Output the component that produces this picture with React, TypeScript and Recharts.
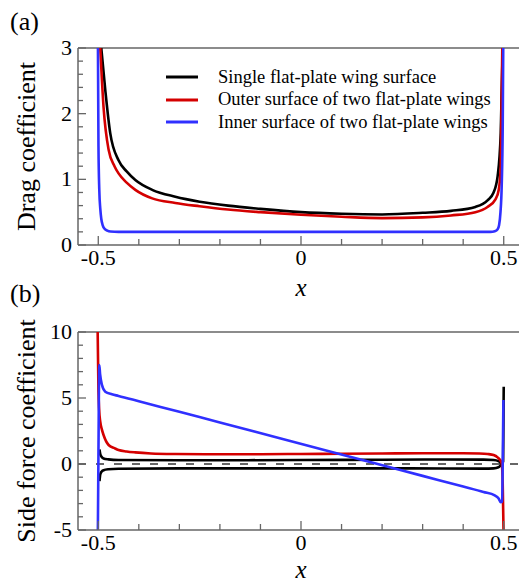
import React from "react";
import { LineChart, Line, XAxis, YAxis, ReferenceLine, Legend } from "recharts";

const FONT = '"Liberation Serif", "Times New Roman", Times, serif';
const FRAME = "#666666";

// shared x axis
const xTicks = [-0.5, -0.4, -0.3, -0.2, -0.1, 0, 0.1, 0.2, 0.3, 0.4, 0.5];
const xLabelAt = [-0.5, 0, 0.5];
const xTickLabels = ["-0.5", "0", "0.5"];

// (a) drag coefficient axis
const dragTicks = [0, 0.2, 0.4, 0.6, 0.8, 1, 1.2, 1.4, 1.6, 1.8, 2, 2.2, 2.4, 2.6, 2.8, 3];
const dragLabelAt = [0, 1, 2, 3];
const dragTickLabels = ["0", "1", "2", "3"];

// (b) side force coefficient axis
const sideTicks = [-5, -4, -3, -2, -1, 0, 1, 2, 3, 4, 5, 6, 7, 8, 9, 10];
const sideLabelAt = [-5, 0, 5, 10];
const sideTickLabels = ["-5", "0", "5", "10"];

const seriesNames = [
  "Single flat-plate wing surface",
  "Outer surface of two flat-plate wings",
  "Inner surface of two flat-plate wings",
];
const seriesColors = ["#000000", "#d40000", "#3030ff"];

// (a) drag coefficient
const singleDragX = [-0.4926, -0.4827, -0.4704, -0.45, -0.43, -0.4086, -0.367, -0.31, -0.25, -0.18, -0.1, 0, 0.1, 0.2, 0.3, 0.37, 0.43, 0.46, 0.475, 0.485, 0.4926, 0.4975];
const singleDragY = [3, 2.36, 1.7, 1.29, 1.12, 0.99, 0.84, 0.735, 0.66, 0.6, 0.55, 0.5, 0.475, 0.465, 0.49, 0.52, 0.58, 0.68, 0.8, 1.05, 1.7, 3];

const outerDragX = [-0.4951, -0.487, -0.4745, -0.46, -0.45, -0.43, -0.4086, -0.367, -0.31, -0.25, -0.18, -0.1, 0, 0.1, 0.2, 0.3, 0.37, 0.43, 0.46, 0.48, 0.488, 0.4926, 0.4965];
const outerDragY = [3, 2.1, 1.45, 1.2, 1.09, 0.95, 0.84, 0.71, 0.64, 0.59, 0.54, 0.5, 0.46, 0.43, 0.41, 0.42, 0.45, 0.5, 0.58, 0.7, 0.85, 1.2, 3];

const innerDragX = [-0.5008, -0.4995, -0.4975, -0.495, -0.4926, -0.489, -0.485, -0.478, -0.47, -0.45, 0, 0.45, 0.467, 0.478, 0.485, 0.4885, 0.492, 0.495, 0.4975, 0.4988];
const innerDragY = [3, 1.5, 0.84, 0.55, 0.4, 0.3, 0.25, 0.22, 0.205, 0.2, 0.2, 0.2, 0.2, 0.21, 0.24, 0.3, 0.5, 0.9, 1.8, 3];

// (b) side force coefficient, single wing has two branches
const singleUpperX = [-0.497, -0.4951, -0.492, -0.487, -0.475, -0.45, -0.3, 0, 0.2, 0.35, 0.45, 0.475, 0.487, 0.4926, 0.4955, 0.4985, 0.5];
const singleUpperY = [1.1, 0.75, 0.55, 0.42, 0.35, 0.3, 0.28, 0.3, 0.32, 0.34, 0.33, 0.3, 0.22, 0.08, 0, 0.2, 5.86];
const singleLowerX = [-0.497, -0.4951, -0.492, -0.487, -0.475, -0.45, -0.3, 0, 0.2, 0.35, 0.45, 0.475, 0.487, 0.4926, 0.4955];
const singleLowerY = [-1.3, -0.8, -0.58, -0.47, -0.4, -0.36, -0.33, -0.33, -0.33, -0.34, -0.35, -0.33, -0.25, -0.1, 0];

const outerSideX = [-0.5015, -0.4995, -0.498, -0.4951, -0.491, -0.487, -0.4745, -0.46, -0.45, -0.43, -0.409, -0.37, -0.31, -0.2, -0.1, 0, 0.1, 0.2, 0.3, 0.4, 0.44, 0.46, 0.475, 0.485, 0.491, 0.4951, 0.4975, 0.4995];
const outerSideY = [10, 5.5, 4.2, 3.2, 2.6, 2.2, 1.44, 1.2, 1.06, 0.95, 0.88, 0.8, 0.76, 0.74, 0.74, 0.76, 0.78, 0.8, 0.82, 0.82, 0.8, 0.76, 0.68, 0.5, 0.3, 0.05, -1.5, -5];

const innerSideX = [-0.501, -0.4995, -0.4975, -0.4955, -0.491, -0.4827, -0.4663, -0.45, -0.4, -0.3, -0.2, -0.05, 0.189, 0.3, 0.4, 0.45, 0.4778, 0.487, 0.4925, 0.496, 0.4975, 0.4992];
const innerSideY = [-5, 1, 7.5, 6.8, 6.0, 5.48, 5.28, 5.16, 4.76, 3.95, 3.15, 1.93, 0, -0.9, -1.71, -2.12, -2.38, -2.6, -2.9, -2.85, 0, 4.85];

const pts = (xs: number[], ys: number[]) => xs.map((x, i) => ({ x, y: ys[i] }));

// ticks point inward, only the major ones get a label
const makeYTick = (labelAt: number[], labels: string[]) => (props: any) => {
  const { x, y, payload } = props;
  const i = labelAt.indexOf(payload.value);
  return (
    <g>
      <line x1={x} y1={y} x2={x + (i >= 0 ? 8 : 5)} y2={y} stroke={FRAME} strokeWidth={1.3} />
      {i >= 0 && (
        <text x={x - 6} y={y + 7} textAnchor="end" fill="#000" fontSize={22} fontFamily={FONT}>
          {labels[i]}
        </text>
      )}
    </g>
  );
};

const XTick = (props: any) => {
  const { x, y, payload } = props;
  const i = xLabelAt.indexOf(payload.value);
  return (
    <g>
      <line x1={x} y1={y} x2={x} y2={y - (i >= 0 ? 9 : 6)} stroke={FRAME} strokeWidth={1.3} />
      {i >= 0 && (
        <text x={x} y={y + 20} textAnchor="middle" fill="#000" fontSize={22} fontFamily={FONT}>
          {xTickLabels[i]}
        </text>
      )}
    </g>
  );
};

const DragTick = makeYTick(dragLabelAt, dragTickLabels);
const SideTick = makeYTick(sideLabelAt, sideTickLabels);

const renderLegend = () => (
  <div style={{ fontFamily: FONT, fontSize: 18.5, color: "#000" }}>
    {seriesNames.map((n, i) => (
      <div key={n} style={{ display: "flex", alignItems: "center", height: 22.5, whiteSpace: "nowrap" }}>
        <svg width={32} height={6}>
          <line x1={0} y1={3} x2={32} y2={3} stroke={seriesColors[i]} strokeWidth={3} />
        </svg>
        <span style={{ marginLeft: 20 }}>{n}</span>
      </div>
    ))}
  </div>
);

const lineProps = {
  dataKey: "y",
  type: "monotone" as const,
  dot: false,
  activeDot: false,
  strokeWidth: 2.6,
  isAnimationActive: false,
};

const xAxisProps = {
  type: "number" as const,
  dataKey: "x",
  domain: [-0.55, 0.55],
  ticks: xTicks,
  interval: 0 as const,
  tickSize: 0,
  tickMargin: 0,
  tickLine: false,
  axisLine: { stroke: FRAME, strokeWidth: 1.5 },
  tick: XTick,
  allowDataOverflow: true,
};

const xLabel = (offset: number) => ({
  value: "x",
  position: "insideBottom" as const,
  offset,
  fill: "#000",
  fontSize: 25,
  fontStyle: "italic",
  fontFamily: FONT,
});

const yLabel = (value: string) => ({
  value,
  angle: -90,
  position: "insideLeft" as const,
  offset: 8,
  fill: "#000",
  fontSize: 26,
  fontFamily: FONT,
  style: { textAnchor: "middle" as const },
});

const panelLabel: React.CSSProperties = {
  position: "absolute",
  left: 10,
  fontFamily: FONT,
  fontSize: 26,
  lineHeight: "26px",
  color: "#000",
};

export default function App() {
  return (
    <div
      style={{
        position: "absolute",
        left: 0,
        top: 0,
        width: 519,
        height: 584,
        overflow: "hidden",
        background: "#fff",
      }}
    >
      <div style={{ position: "absolute", left: 0, top: 0 }}>
        <LineChart width={524} height={312} margin={{ top: 48, right: 0, bottom: 12, left: 18 }}>
          <XAxis {...xAxisProps} height={55} label={xLabel(4)} />
          <YAxis
            type="number"
            domain={[0, 3]}
            ticks={dragTicks}
            interval={0}
            width={60}
            tickSize={0}
            tickMargin={0}
            tickLine={false}
            axisLine={{ stroke: FRAME, strokeWidth: 1.5 }}
            tick={DragTick}
            allowDataOverflow
            label={yLabel("Drag coefficient")}
          />
          <ReferenceLine y={3} stroke={FRAME} strokeWidth={1.5} />
          <Legend
            layout="vertical"
            align="center"
            verticalAlign="middle"
            wrapperStyle={{ left: 166, top: 66, width: 340 }}
            content={renderLegend}
          />
          <Line {...lineProps} data={pts(singleDragX, singleDragY)} name={seriesNames[0]} stroke={seriesColors[0]} />
          <Line {...lineProps} data={pts(outerDragX, outerDragY)} name={seriesNames[1]} stroke={seriesColors[1]} />
          <Line {...lineProps} data={pts(innerDragX, innerDragY)} name={seriesNames[2]} stroke={seriesColors[2]} />
        </LineChart>
      </div>

      <div style={{ position: "absolute", left: 0, top: 284 }}>
        <LineChart width={524} height={300} margin={{ top: 48, right: 0, bottom: 0, left: 18 }}>
          <XAxis {...xAxisProps} height={54} label={xLabel(6)} />
          <YAxis
            type="number"
            domain={[-5, 10]}
            ticks={sideTicks}
            interval={0}
            width={60}
            tickSize={0}
            tickMargin={0}
            tickLine={false}
            axisLine={{ stroke: FRAME, strokeWidth: 1.5 }}
            tick={SideTick}
            allowDataOverflow
            label={yLabel("Side force coefficient")}
          />
          <ReferenceLine y={10} stroke={FRAME} strokeWidth={1.5} />
          <ReferenceLine y={0} stroke={FRAME} strokeWidth={2} strokeDasharray="8 10" />
          <Line {...lineProps} data={pts(singleUpperX, singleUpperY)} name={seriesNames[0]} stroke={seriesColors[0]} />
          <Line {...lineProps} data={pts(singleLowerX, singleLowerY)} name={seriesNames[0] + " (lower)"} stroke={seriesColors[0]} />
          <Line {...lineProps} data={pts(outerSideX, outerSideY)} name={seriesNames[1]} stroke={seriesColors[1]} />
          <Line {...lineProps} data={pts(innerSideX, innerSideY)} name={seriesNames[2]} stroke={seriesColors[2]} />
        </LineChart>
      </div>

      <div style={{ ...panelLabel, top: 9 }}>(a)</div>
      <div style={{ ...panelLabel, top: 281 }}>(b)</div>
    </div>
  );
}
